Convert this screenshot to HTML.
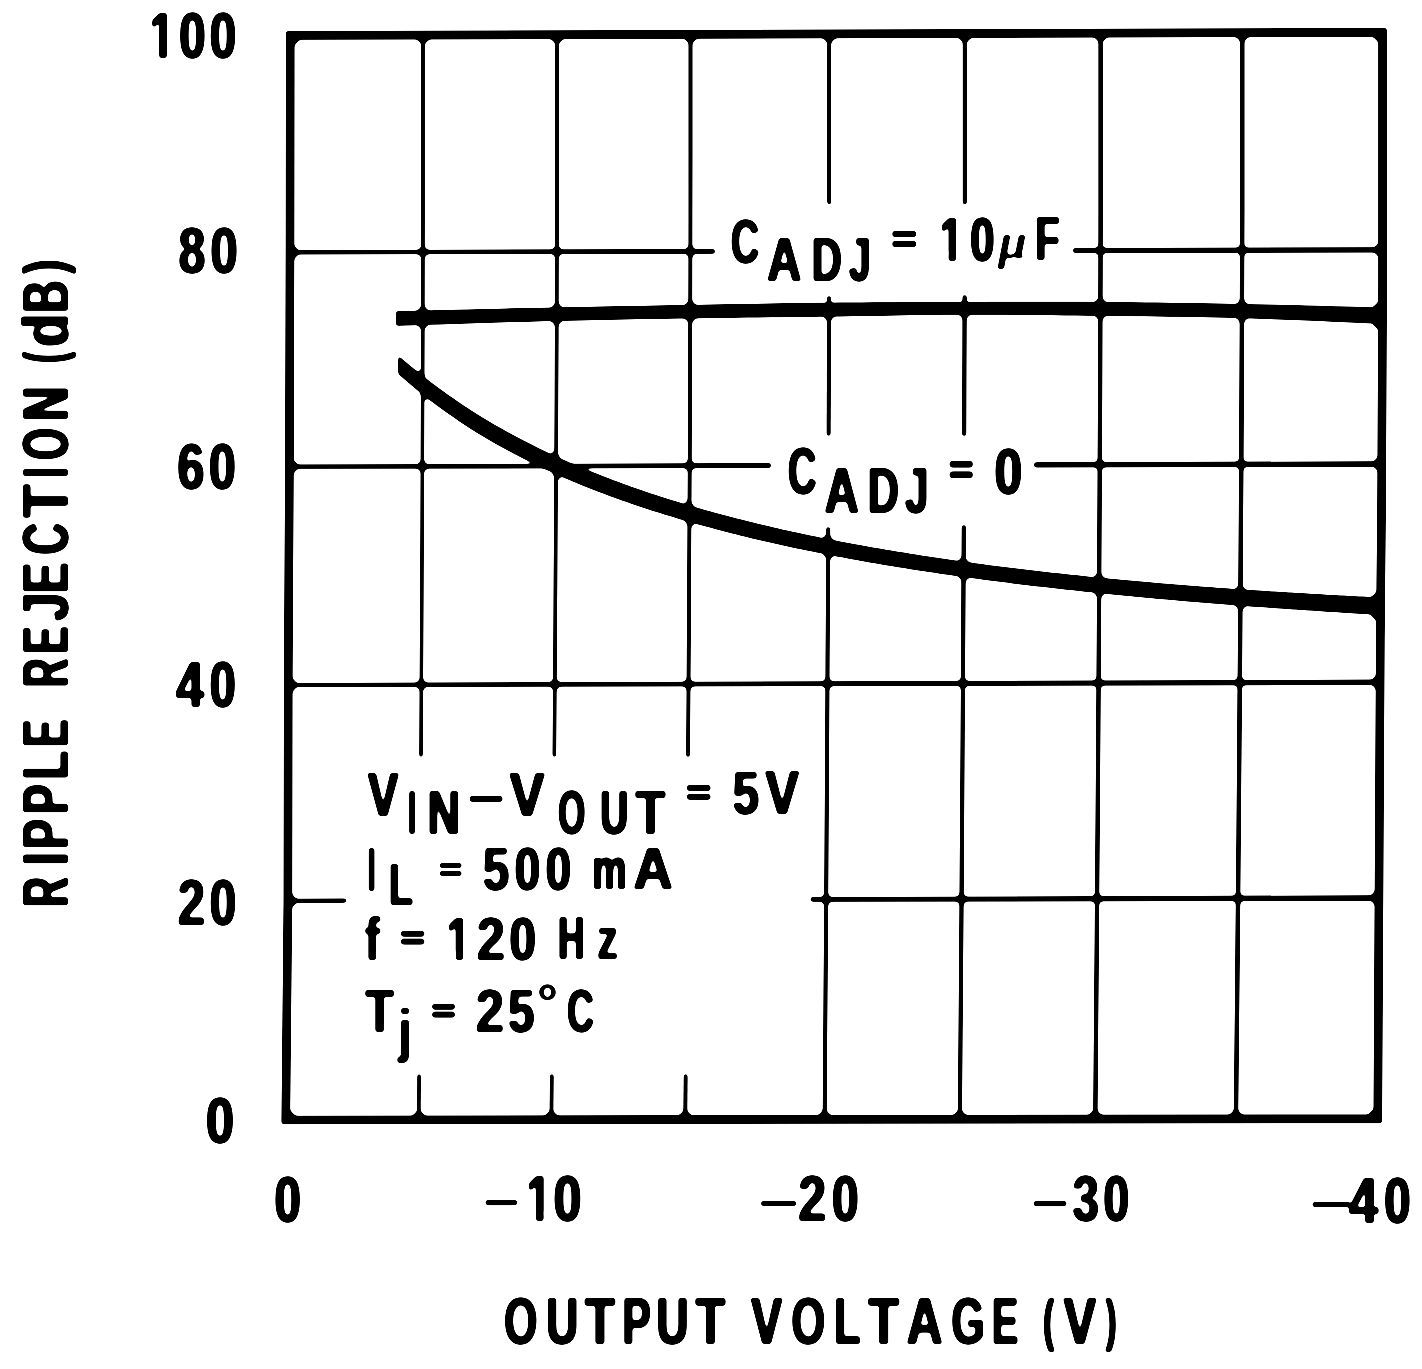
<!DOCTYPE html>
<html lang="en"><head><meta charset="utf-8"><title>Ripple Rejection vs Output Voltage</title>
<style>
html,body{margin:0;padding:0;background:#fff}
svg{display:block}
</style></head><body>
<svg width="1422" height="1369" viewBox="0 0 1422 1369" role="img" aria-labelledby="ttl dsc">
<title id="ttl">RIPPLE REJECTION (dB) vs OUTPUT VOLTAGE (V)</title>
<desc id="dsc">Ripple rejection versus output voltage for CADJ = 10μF and CADJ = 0. Conditions: VIN−VOUT = 5V, IL = 500 mA, f = 120 Hz, Tj = 25°C.</desc>
<defs>
<filter id="fatx" x="0" y="0" width="1422" height="1369" filterUnits="userSpaceOnUse"><feOffset in="SourceGraphic" dx="-1" dy="0" result="a"/><feOffset in="SourceGraphic" dx="1" dy="0" result="b"/><feMerge><feMergeNode in="a"/><feMergeNode in="b"/><feMergeNode in="SourceGraphic"/></feMerge></filter>
<filter id="faty" x="0" y="0" width="1422" height="1369" filterUnits="userSpaceOnUse"><feOffset in="SourceGraphic" dx="0" dy="-1" result="a"/><feOffset in="SourceGraphic" dx="0" dy="1" result="b"/><feMerge><feMergeNode in="a"/><feMergeNode in="b"/><feMergeNode in="SourceGraphic"/></feMerge></filter>
<filter id="ink" x="-30" y="-30" width="1482" height="1429" filterUnits="userSpaceOnUse" color-interpolation-filters="sRGB"><feGaussianBlur stdDeviation="1.5"/><feComponentTransfer><feFuncR type="linear" slope="7.0" intercept="-3.0"/><feFuncG type="linear" slope="7.0" intercept="-3.0"/><feFuncB type="linear" slope="7.0" intercept="-3.0"/></feComponentTransfer></filter>
</defs>
<g id="art" filter="url(#ink)">
<rect id="bg" x="-60" y="-60" width="1542" height="1489" fill="#fff"/>
<g fill="#000" stroke="none">
<polygon points="421.2,35.0 421.2,95.2 421.2,155.4 421.2,215.5 421.1,275.7 421.0,335.9 420.8,396.0 420.6,456.2 420.4,516.3 420.1,576.5 419.8,636.7 419.5,696.8 419.2,757.0 422.8,757.0 423.1,696.8 423.4,636.7 423.7,576.5 424.0,516.3 424.2,456.2 424.4,396.0 424.6,335.9 424.7,275.7 424.8,215.5 424.8,155.4 424.8,95.2 424.8,35.0"/>
<polygon points="417.3,1074.0 417.0,1119.9 420.6,1119.9 420.9,1074.0"/>
<polygon points="555.1,34.7 555.1,94.9 555.1,155.1 555.1,215.3 555.0,275.4 554.8,335.6 554.6,395.8 554.3,456.0 554.0,516.2 553.6,576.4 553.3,636.6 552.9,696.8 552.5,757.0 556.2,757.0 556.6,696.8 557.0,636.6 557.4,576.4 557.7,516.2 558.1,456.0 558.3,395.8 558.6,335.6 558.7,275.4 558.9,215.3 558.9,155.1 558.9,94.9 558.9,34.7"/>
<polygon points="549.9,1074.0 549.5,1119.7 553.3,1119.7 553.7,1074.0"/>
<polygon points="688.5,34.3 688.5,94.5 688.5,154.8 688.5,215.0 688.4,275.2 688.2,335.4 688.0,395.7 687.8,455.9 687.5,516.1 687.2,576.3 686.8,636.6 686.5,696.8 686.1,757.0 690.0,757.0 690.4,696.8 690.8,636.6 691.1,576.3 691.4,516.1 691.7,455.9 691.9,395.7 692.2,335.4 692.3,275.2 692.4,215.0 692.5,154.8 692.5,94.5 692.5,34.3"/>
<polygon points="683.7,1074.0 683.3,1119.6 687.3,1119.6 687.6,1074.0"/>
<polygon points="827.2,33.9 827.2,119.2 827.2,204.5 831.2,204.5 831.2,119.2 831.2,33.9"/>
<polygon points="827.0,296.0 826.8,366.0 826.6,436.0 830.6,436.0 830.9,366.0 831.1,296.0"/>
<polygon points="826.2,527.0 825.9,592.8 825.5,658.6 825.2,724.5 824.8,790.3 824.4,856.1 824.0,921.9 823.5,987.8 823.1,1053.6 822.6,1119.4 826.7,1119.4 827.1,1053.6 827.6,987.8 828.1,921.9 828.5,856.1 828.9,790.3 829.3,724.5 829.6,658.6 830.0,592.8 830.3,527.0"/>
<polygon points="962.7,33.5 962.7,119.0 962.7,204.5 966.9,204.5 966.9,119.0 966.9,33.5"/>
<polygon points="962.5,295.0 962.3,365.5 962.0,436.0 966.3,436.0 966.5,365.5 966.8,295.0"/>
<polygon points="961.7,525.0 961.3,591.0 961.0,657.1 960.6,723.1 960.2,789.1 959.7,855.1 959.3,921.2 958.8,987.2 958.3,1053.2 957.8,1119.3 962.0,1119.3 962.5,1053.2 963.0,987.2 963.5,921.2 964.0,855.1 964.4,789.1 964.8,723.1 965.2,657.1 965.6,591.0 965.9,525.0"/>
<polygon points="1098.4,33.2 1098.4,93.5 1098.4,153.8 1098.4,214.2 1098.3,274.5 1098.1,334.8 1097.9,395.2 1097.6,455.5 1097.3,515.8 1097.0,576.1 1096.7,636.5 1096.3,696.8 1095.9,757.1 1095.5,817.5 1095.0,877.8 1094.6,938.1 1094.1,998.5 1093.6,1058.8 1093.1,1119.1 1097.5,1119.1 1098.0,1058.8 1098.5,998.5 1099.0,938.1 1099.4,877.8 1099.9,817.5 1100.3,757.1 1100.7,696.8 1101.1,636.5 1101.4,576.1 1101.7,515.8 1102.0,455.5 1102.3,395.2 1102.5,334.8 1102.7,274.5 1102.8,214.2 1102.8,153.8 1102.8,93.5 1102.8,33.2"/>
<polygon points="1239.9,32.8 1239.9,93.1 1239.9,153.5 1239.9,213.8 1239.8,274.2 1239.6,334.5 1239.3,394.8 1239.0,455.2 1238.7,515.5 1238.3,575.9 1237.9,636.2 1237.4,696.6 1237.0,756.9 1236.5,817.2 1236.0,877.6 1235.4,937.9 1234.9,998.3 1234.3,1058.6 1233.7,1119.0 1238.2,1119.0 1238.8,1058.6 1239.4,998.3 1240.0,937.9 1240.5,877.6 1241.0,817.2 1241.5,756.9 1242.0,696.6 1242.4,636.2 1242.8,575.9 1243.2,515.5 1243.6,455.2 1243.9,394.8 1244.1,334.5 1244.3,274.2 1244.5,213.8 1244.5,153.5 1244.5,93.1 1244.5,32.8"/>
<polygon points="290.0,250.2 715.0,249.0 715.0,253.7 290.0,254.4"/>
<polygon points="1073.0,248.0 1382.6,247.2 1382.6,252.6 1073.0,253.1"/>
<polygon points="289.4,464.6 771.0,463.1 771.0,467.9 289.4,468.8"/>
<polygon points="1034.0,462.3 1381.8,461.3 1381.8,466.7 1034.0,467.4"/>
<polygon points="288.2,682.9 1380.1,679.6 1380.1,685.0 288.2,687.1"/>
<polygon points="287.9,898.7 346.5,898.5 346.5,902.8 287.9,902.9"/>
<polygon points="810.5,897.1 1379.0,895.3 1379.0,900.7 810.5,901.8"/>
<polygon points="396.0,311.3 395.6,311.3 394.4,311.3 392.7,311.3 390.7,311.4 388.8,311.4 387.1,311.4 386.0,311.4 385.7,311.4 386.5,311.4 388.6,311.3 392.4,311.2 398.0,311.1 405.8,310.9 415.6,310.7 427.1,310.4 440.0,310.1 454.0,309.7 468.8,309.4 484.0,309.0 499.3,308.7 514.5,308.3 529.2,308.0 543.2,307.7 556.0,307.4 568.0,307.1 579.7,306.9 591.1,306.7 602.3,306.5 613.3,306.3 624.2,306.1 635.1,305.9 645.9,305.7 656.8,305.5 667.7,305.3 678.8,305.1 690.0,304.9 701.4,304.7 712.8,304.5 724.3,304.3 735.8,304.1 747.3,303.9 758.9,303.7 770.4,303.5 782.0,303.3 793.5,303.1 805.1,303.0 816.6,302.8 828.0,302.7 839.4,302.6 850.8,302.5 862.2,302.4 873.5,302.3 884.9,302.2 896.2,302.2 907.5,302.1 918.8,302.1 930.1,302.0 941.4,302.0 952.7,301.9 964.0,301.9 975.3,301.9 986.5,301.8 997.7,301.8 1008.9,301.8 1020.0,301.7 1031.2,301.7 1042.4,301.7 1053.6,301.7 1064.9,301.7 1076.2,301.8 1087.5,301.8 1099.0,301.9 1110.5,302.0 1122.2,302.1 1133.8,302.2 1145.6,302.4 1157.3,302.5 1169.1,302.7 1180.9,302.9 1192.8,303.0 1204.6,303.2 1216.4,303.5 1228.2,303.7 1240.0,303.9 1252.2,304.2 1265.1,304.4 1278.6,304.8 1292.2,305.1 1305.9,305.5 1319.3,305.8 1332.2,306.2 1344.4,306.5 1355.7,306.8 1365.7,307.1 1374.2,307.3 1381.0,307.5 1381.0,323.9 1374.2,323.6 1365.7,323.2 1355.7,322.8 1344.4,322.3 1332.2,321.7 1319.3,321.1 1305.9,320.6 1292.2,320.0 1278.6,319.4 1265.1,318.9 1252.2,318.5 1240.0,318.1 1228.2,317.8 1216.4,317.5 1204.6,317.3 1192.8,317.0 1180.9,316.8 1169.1,316.7 1157.3,316.5 1145.6,316.3 1133.8,316.2 1122.2,316.1 1110.5,315.9 1099.0,315.8 1087.5,315.7 1076.2,315.5 1064.9,315.4 1053.6,315.2 1042.4,315.1 1031.2,315.0 1020.0,314.9 1008.9,314.8 997.7,314.7 986.5,314.7 975.3,314.7 964.0,314.7 952.7,314.8 941.4,314.8 930.1,315.0 918.8,315.1 907.5,315.3 896.2,315.5 884.9,315.7 873.5,315.9 862.2,316.1 850.8,316.3 839.4,316.4 828.0,316.6 816.6,316.8 805.1,316.9 793.5,317.0 782.0,317.2 770.4,317.3 758.9,317.5 747.3,317.6 735.8,317.7 724.3,317.9 712.8,318.1 701.4,318.2 690.0,318.4 678.8,318.6 667.7,318.8 656.8,318.9 645.9,319.1 635.1,319.3 624.2,319.5 613.3,319.7 602.3,319.9 591.1,320.2 579.7,320.4 568.0,320.7 556.0,321.0 543.2,321.3 529.2,321.7 514.5,322.1 499.3,322.6 484.0,323.1 468.8,323.5 454.0,324.0 440.0,324.4 427.1,324.8 415.6,325.2 405.8,325.5 398.0,325.7 392.4,325.9 388.6,326.0 386.5,326.0 385.7,326.0 386.0,326.0 387.1,325.9 388.8,325.9 390.7,325.8 392.7,325.7 394.4,325.7 395.6,325.6 396.0,325.6"/>
<polygon points="398.2,355.6 398.8,356.1 399.5,356.7 400.3,357.4 401.2,358.1 402.2,359.0 403.3,359.9 404.4,360.8 405.5,361.8 406.7,362.7 407.8,363.7 408.9,364.6 410.0,365.5 411.0,366.4 412.1,367.2 413.1,368.0 414.1,368.9 415.1,369.8 416.2,370.6 417.2,371.5 418.3,372.4 419.4,373.3 420.6,374.2 421.8,375.1 423.0,376.1 424.3,377.1 425.5,378.1 426.8,379.1 428.1,380.1 429.4,381.1 430.8,382.2 432.2,383.2 433.7,384.3 435.2,385.5 436.7,386.6 438.3,387.8 440.0,389.0 441.8,390.3 443.6,391.6 445.6,393.0 447.6,394.4 449.7,395.9 451.8,397.3 453.9,398.8 456.0,400.2 458.0,401.7 460.1,403.1 462.1,404.4 464.0,405.7 465.9,406.9 467.7,408.1 469.4,409.3 471.2,410.4 472.9,411.5 474.6,412.6 476.3,413.7 478.0,414.7 479.8,415.8 481.5,416.9 483.2,417.9 485.0,419.0 486.8,420.1 488.6,421.2 490.4,422.2 492.2,423.3 494.0,424.4 495.9,425.4 497.7,426.5 499.6,427.5 501.4,428.6 503.3,429.6 505.1,430.7 507.0,431.7 508.9,432.7 510.8,433.8 512.6,434.8 514.5,435.8 516.4,436.8 518.3,437.8 520.2,438.8 522.1,439.8 524.1,440.8 526.0,441.8 528.0,442.8 530.0,443.8 532.0,444.8 534.1,445.8 536.1,446.9 538.2,447.9 540.3,448.9 542.4,449.9 544.5,450.9 546.6,451.9 548.7,453.0 550.8,453.9 552.9,454.9 555.0,455.9 557.1,456.9 559.1,457.8 561.2,458.7 563.3,459.7 565.3,460.6 567.4,461.5 569.4,462.4 571.5,463.3 573.6,464.2 575.7,465.1 577.8,466.0 580.0,466.9 582.2,467.8 584.4,468.7 586.6,469.6 588.8,470.5 591.1,471.4 593.3,472.3 595.6,473.2 597.9,474.1 600.1,475.0 602.4,475.9 604.7,476.8 607.0,477.7 609.3,478.6 611.6,479.5 614.0,480.4 616.4,481.2 618.7,482.1 621.1,483.0 623.5,483.9 625.9,484.7 628.2,485.6 630.5,486.4 632.8,487.2 635.0,488.0 637.1,488.8 639.2,489.5 641.1,490.1 643.0,490.8 644.9,491.4 646.8,492.1 648.7,492.7 650.7,493.4 652.8,494.1 655.0,494.8 657.4,495.6 660.0,496.4 662.8,497.3 665.8,498.2 668.9,499.2 672.2,500.2 675.6,501.2 679.1,502.3 682.6,503.4 686.1,504.4 689.6,505.5 693.2,506.5 696.6,507.5 700.0,508.5 703.3,509.4 706.7,510.4 710.0,511.3 713.3,512.2 716.7,513.2 720.0,514.1 723.3,515.0 726.7,515.8 730.0,516.7 733.3,517.6 736.7,518.4 740.0,519.3 743.3,520.1 746.7,521.0 750.0,521.8 753.3,522.6 756.7,523.4 760.0,524.2 763.3,525.0 766.7,525.8 770.0,526.6 773.3,527.4 776.7,528.1 780.0,528.9 783.3,529.7 786.7,530.4 790.0,531.1 793.3,531.9 796.7,532.6 800.0,533.3 803.3,534.0 806.7,534.7 810.0,535.4 813.3,536.1 816.7,536.8 820.0,537.5 823.3,538.2 826.7,538.8 830.0,539.5 833.3,540.1 836.7,540.8 840.0,541.4 843.3,542.0 846.7,542.7 850.0,543.3 853.3,543.9 856.7,544.5 860.0,545.1 863.3,545.7 866.6,546.3 869.8,546.9 873.0,547.4 876.2,548.0 879.4,548.5 882.6,549.1 885.9,549.7 889.3,550.2 892.8,550.8 896.3,551.4 900.0,552.0 903.8,552.6 907.8,553.2 911.8,553.9 915.9,554.5 920.1,555.2 924.4,555.9 928.7,556.5 933.0,557.2 937.3,557.8 941.6,558.5 945.8,559.1 950.0,559.7 954.2,560.3 958.3,560.9 962.5,561.5 966.7,562.1 970.8,562.6 975.0,563.2 979.2,563.8 983.3,564.3 987.5,564.9 991.7,565.4 995.8,566.0 1000.0,566.5 1004.2,567.0 1008.3,567.5 1012.5,568.1 1016.7,568.6 1020.8,569.1 1025.0,569.5 1029.2,570.0 1033.3,570.5 1037.5,571.0 1041.7,571.5 1045.8,571.9 1050.0,572.4 1054.2,572.9 1058.3,573.3 1062.5,573.8 1066.7,574.2 1070.8,574.7 1075.0,575.1 1079.2,575.6 1083.3,576.0 1087.5,576.4 1091.7,576.9 1095.8,577.3 1100.0,577.7 1104.2,578.1 1108.3,578.5 1112.5,578.9 1116.7,579.3 1120.8,579.7 1125.0,580.1 1129.2,580.5 1133.3,580.8 1137.5,581.2 1141.7,581.6 1145.8,581.9 1150.0,582.3 1154.2,582.7 1158.3,583.0 1162.5,583.4 1166.7,583.7 1170.8,584.1 1175.0,584.4 1179.2,584.8 1183.3,585.1 1187.5,585.4 1191.7,585.8 1195.8,586.1 1200.0,586.4 1204.2,586.7 1208.3,587.0 1212.5,587.3 1216.7,587.7 1220.8,588.0 1225.0,588.3 1229.2,588.6 1233.3,588.9 1237.5,589.1 1241.7,589.4 1245.8,589.7 1250.0,590.0 1254.2,590.3 1258.4,590.6 1262.7,590.8 1267.0,591.1 1271.3,591.4 1275.6,591.6 1279.9,591.9 1284.1,592.1 1288.2,592.4 1292.2,592.6 1296.2,592.9 1300.0,593.1 1303.7,593.3 1307.2,593.5 1310.7,593.7 1314.0,593.9 1317.3,594.1 1320.6,594.3 1323.8,594.5 1327.0,594.7 1330.2,594.9 1333.4,595.0 1336.7,595.2 1340.0,595.4 1343.5,595.6 1347.2,595.8 1351.1,596.0 1355.1,596.2 1359.1,596.4 1363.0,596.5 1366.8,596.7 1370.3,596.9 1373.6,597.0 1376.5,597.2 1379.0,597.3 1381.0,597.4 1381.0,615.0 1379.0,614.9 1376.5,614.7 1373.6,614.6 1370.3,614.4 1366.8,614.1 1363.0,613.9 1359.1,613.7 1355.1,613.4 1351.1,613.2 1347.2,613.0 1343.5,612.7 1340.0,612.5 1336.7,612.3 1333.4,612.1 1330.2,611.9 1327.0,611.7 1323.8,611.5 1320.6,611.3 1317.3,611.1 1314.0,610.8 1310.7,610.6 1307.2,610.4 1303.7,610.1 1300.0,609.9 1296.2,609.6 1292.2,609.4 1288.2,609.1 1284.1,608.8 1279.9,608.5 1275.6,608.2 1271.3,607.9 1267.0,607.6 1262.7,607.3 1258.4,607.0 1254.2,606.7 1250.0,606.4 1245.8,606.1 1241.7,605.8 1237.5,605.4 1233.3,605.1 1229.2,604.8 1225.0,604.4 1220.8,604.1 1216.7,603.8 1212.5,603.4 1208.3,603.1 1204.2,602.7 1200.0,602.4 1195.8,602.1 1191.7,601.7 1187.5,601.4 1183.3,601.0 1179.2,600.7 1175.0,600.3 1170.8,599.9 1166.7,599.6 1162.5,599.2 1158.3,598.9 1154.2,598.5 1150.0,598.1 1145.8,597.7 1141.7,597.3 1137.5,596.9 1133.3,596.5 1129.2,596.1 1125.0,595.7 1120.8,595.3 1116.7,594.9 1112.5,594.5 1108.3,594.1 1104.2,593.6 1100.0,593.2 1095.8,592.8 1091.7,592.3 1087.5,591.9 1083.3,591.5 1079.2,591.0 1075.0,590.6 1070.8,590.1 1066.7,589.7 1062.5,589.2 1058.3,588.7 1054.2,588.3 1050.0,587.8 1045.8,587.3 1041.7,586.8 1037.5,586.4 1033.3,585.9 1029.2,585.4 1025.0,584.9 1020.8,584.4 1016.7,583.9 1012.5,583.4 1008.3,582.8 1004.2,582.3 1000.0,581.8 995.8,581.3 991.7,580.7 987.5,580.2 983.3,579.7 979.2,579.1 975.0,578.5 970.8,578.0 966.7,577.4 962.5,576.9 958.3,576.3 954.2,575.7 950.0,575.1 945.8,574.5 941.6,573.9 937.3,573.2 933.0,572.6 928.7,572.0 924.4,571.3 920.1,570.7 915.9,570.0 911.8,569.4 907.8,568.7 903.8,568.1 900.0,567.5 896.3,566.9 892.8,566.3 889.3,565.8 885.9,565.2 882.6,564.7 879.4,564.1 876.2,563.5 873.0,563.0 869.8,562.4 866.6,561.9 863.3,561.3 860.0,560.7 856.7,560.1 853.3,559.5 850.0,558.9 846.7,558.3 843.3,557.6 840.0,557.0 836.7,556.4 833.3,555.7 830.0,555.1 826.7,554.4 823.3,553.8 820.0,553.1 816.7,552.4 813.3,551.8 810.0,551.1 806.7,550.4 803.3,549.7 800.0,549.1 796.7,548.4 793.3,547.7 790.0,547.0 786.7,546.3 783.3,545.5 780.0,544.8 776.7,544.1 773.3,543.3 770.0,542.6 766.7,541.8 763.3,541.0 760.0,540.2 756.7,539.5 753.3,538.7 750.0,537.9 746.7,537.0 743.3,536.2 740.0,535.4 736.7,534.6 733.3,533.7 730.0,532.9 726.7,532.0 723.3,531.2 720.0,530.3 716.7,529.4 713.3,528.5 710.0,527.6 706.7,526.7 703.3,525.8 700.0,524.9 696.6,524.0 693.2,523.0 689.6,522.0 686.1,520.9 682.6,519.9 679.1,518.9 675.6,517.8 672.2,516.8 668.9,515.8 665.8,514.9 662.8,514.0 660.0,513.1 657.4,512.3 655.0,511.6 652.8,510.9 650.7,510.2 648.7,509.6 646.8,508.9 644.9,508.3 643.0,507.7 641.1,507.1 639.2,506.4 637.1,505.7 635.0,505.0 632.8,504.2 630.5,503.4 628.2,502.6 625.9,501.8 623.5,501.0 621.1,500.2 618.7,499.3 616.4,498.4 614.0,497.6 611.6,496.7 609.3,495.9 607.0,495.0 604.7,494.1 602.4,493.3 600.1,492.4 597.9,491.5 595.6,490.7 593.3,489.8 591.1,488.9 588.8,488.0 586.6,487.2 584.4,486.3 582.2,485.4 580.0,484.5 577.8,483.6 575.7,482.7 573.6,481.8 571.5,481.0 569.4,480.1 567.4,479.2 565.3,478.3 563.3,477.4 561.2,476.5 559.1,475.6 557.1,474.6 555.0,473.7 552.9,472.8 550.8,471.8 548.7,470.8 546.6,469.9 544.5,468.9 542.4,467.9 540.3,466.9 538.2,465.9 536.1,465.0 534.1,464.0 532.0,463.0 530.0,462.0 528.0,461.0 526.0,460.0 524.1,459.1 522.1,458.1 520.2,457.1 518.3,456.1 516.4,455.1 514.5,454.1 512.6,453.1 510.8,452.1 508.9,451.1 507.0,450.1 505.1,449.1 503.3,448.1 501.4,447.0 499.6,446.0 497.7,445.0 495.9,443.9 494.0,442.9 492.2,441.8 490.4,440.8 488.6,439.7 486.8,438.7 485.0,437.6 483.2,436.5 481.5,435.5 479.8,434.5 478.0,433.4 476.3,432.4 474.6,431.3 472.9,430.2 471.2,429.2 469.4,428.0 467.7,426.9 465.9,425.7 464.0,424.5 462.1,423.2 460.1,421.9 458.0,420.5 456.0,419.1 453.9,417.6 451.8,416.1 449.7,414.7 447.6,413.2 445.6,411.8 443.6,410.4 441.8,409.1 440.0,407.8 438.3,406.6 436.7,405.4 435.2,404.2 433.7,403.1 432.2,402.0 430.8,400.9 429.4,399.9 428.1,398.8 426.8,397.8 425.5,396.8 424.3,395.8 423.0,394.8 421.8,393.8 420.6,392.9 419.4,392.0 418.3,391.0 417.2,390.2 416.2,389.3 415.1,388.4 414.1,387.5 413.1,386.7 412.1,385.8 411.0,385.0 410.0,384.1 408.9,383.2 407.8,382.3 406.7,381.3 405.5,380.3 404.4,379.3 403.3,378.3 402.2,377.4 401.2,376.5 400.3,375.7 399.5,375.0 398.8,374.4 398.2,373.9"/>
<path d="M415.9 252.0L422.9 245.4L429.9 252.0L422.9 258.6Z"/>
<path d="M415.4 466.4L422.4 459.8L429.4 466.4L422.4 473.0Z"/>
<path d="M414.4 684.7L421.4 678.1L428.4 684.7L421.4 691.3Z"/>
<path d="M416.9 39.4L423.1 33.4L429.3 39.4L423.1 45.4Z"/>
<path d="M412.6 1115.5L418.8 1109.5L425.0 1115.5L418.8 1121.5Z"/>
<path d="M417.1 311.0L422.9 304.8L428.7 311.0L422.9 317.2Z"/>
<path d="M416.9 324.4L422.7 318.2L428.5 324.4L422.7 330.6Z"/>
<path d="M413.7 376.3L419.5 370.1L425.3 376.3L419.5 382.5Z"/>
<path d="M420.0 394.0L425.8 387.8L431.6 394.0L425.8 400.2Z"/>
<path d="M549.9 251.7L556.9 245.1L563.9 251.7L556.9 258.3Z"/>
<path d="M549.1 466.0L556.1 459.4L563.1 466.0L556.1 472.6Z"/>
<path d="M547.9 684.3L554.9 677.7L561.9 684.3L554.9 690.9Z"/>
<path d="M550.9 39.0L557.1 33.0L563.3 39.0L557.1 45.0Z"/>
<path d="M545.1 1115.4L551.3 1109.4L557.5 1115.4L551.3 1121.4Z"/>
<path d="M551.1 307.9L556.9 301.7L562.7 307.9L556.9 314.1Z"/>
<path d="M550.8 320.5L556.6 314.3L562.4 320.5L556.6 326.7Z"/>
<path d="M548.5 456.9L554.3 450.7L560.1 456.9L554.3 463.1Z"/>
<path d="M552.1 473.7L557.9 467.5L563.7 473.7L557.9 479.9Z"/>
<path d="M683.4 251.4L690.4 244.8L697.4 251.4L690.4 258.0Z"/>
<path d="M682.7 465.7L689.7 459.1L696.7 465.7L689.7 472.3Z"/>
<path d="M681.5 684.0L688.5 677.4L695.5 684.0L688.5 690.6Z"/>
<path d="M684.4 38.7L690.6 32.7L696.8 38.7L690.6 44.7Z"/>
<path d="M679.0 1115.2L685.2 1109.2L691.4 1115.2L685.2 1121.2Z"/>
<path d="M684.6 305.4L690.4 299.2L696.2 305.4L690.4 311.6Z"/>
<path d="M684.4 317.9L690.2 311.7L696.0 317.9L690.2 324.1Z"/>
<path d="M682.5 505.9L688.3 499.7L694.1 505.9L688.3 512.1Z"/>
<path d="M684.8 521.4L690.6 515.2L696.4 521.4L690.6 527.6Z"/>
<path d="M820.5 683.7L827.5 677.1L834.5 683.7L827.5 690.3Z"/>
<path d="M819.2 899.4L826.2 892.8L833.2 899.4L826.2 906.0Z"/>
<path d="M823.1 38.3L829.3 32.3L835.5 38.3L829.3 44.3Z"/>
<path d="M818.3 1115.1L824.5 1109.1L830.7 1115.1L824.5 1121.1Z"/>
<path d="M823.1 316.1L828.9 309.9L834.7 316.1L828.9 322.3Z"/>
<path d="M821.6 539.6L827.4 533.4L833.2 539.6L827.4 545.8Z"/>
<path d="M823.1 554.2L828.9 548.0L834.7 554.2L828.9 560.4Z"/>
<path d="M955.9 683.3L962.9 676.7L969.9 683.3L962.9 689.9Z"/>
<path d="M954.6 899.1L961.6 892.5L968.6 899.1L961.6 905.7Z"/>
<path d="M958.7 37.9L964.9 31.9L971.1 37.9L964.9 43.9Z"/>
<path d="M953.6 1114.9L959.8 1108.9L966.0 1114.9L959.8 1120.9Z"/>
<path d="M958.8 314.2L964.6 308.0L970.4 314.2L964.6 320.4Z"/>
<path d="M957.2 562.1L963.0 555.9L968.8 562.1L963.0 568.3Z"/>
<path d="M958.3 576.5L964.1 570.3L969.9 576.5L964.1 582.7Z"/>
<path d="M1093.5 250.5L1100.5 243.9L1107.5 250.5L1100.5 257.1Z"/>
<path d="M1092.8 464.7L1099.8 458.1L1106.8 464.7L1099.8 471.3Z"/>
<path d="M1091.6 683.0L1098.6 676.4L1105.6 683.0L1098.6 689.6Z"/>
<path d="M1090.1 898.7L1097.1 892.1L1104.1 898.7L1097.1 905.3Z"/>
<path d="M1094.5 37.5L1100.7 31.5L1106.9 37.5L1100.7 43.5Z"/>
<path d="M1089.0 1114.8L1095.2 1108.8L1101.4 1114.8L1095.2 1120.8Z"/>
<path d="M1094.6 302.4L1100.4 296.2L1106.2 302.4L1100.4 308.6Z"/>
<path d="M1094.6 315.3L1100.4 309.1L1106.2 315.3L1100.4 321.5Z"/>
<path d="M1093.0 578.1L1098.8 571.9L1104.6 578.1L1098.8 584.3Z"/>
<path d="M1093.7 592.6L1099.5 586.4L1105.3 592.6L1099.5 598.8Z"/>
<path d="M1235.1 250.2L1242.1 243.6L1249.1 250.2L1242.1 256.8Z"/>
<path d="M1234.2 464.3L1241.2 457.7L1248.2 464.3L1241.2 470.9Z"/>
<path d="M1232.8 682.6L1239.8 676.0L1246.8 682.6L1239.8 689.2Z"/>
<path d="M1231.1 898.4L1238.1 891.8L1245.1 898.4L1238.1 905.0Z"/>
<path d="M1236.1 37.1L1242.3 31.1L1248.5 37.1L1242.3 43.1Z"/>
<path d="M1229.7 1114.6L1235.9 1108.6L1242.1 1114.6L1235.9 1120.6Z"/>
<path d="M1236.1 304.4L1241.9 298.2L1247.7 304.4L1241.9 310.6Z"/>
<path d="M1236.2 317.7L1242.0 311.5L1247.8 317.7L1242.0 323.9Z"/>
<path d="M1234.4 589.9L1240.2 583.7L1246.0 589.9L1240.2 596.1Z"/>
<path d="M1234.9 605.2L1240.7 599.0L1246.5 605.2L1240.7 611.4Z"/>
<path d="M288.3 252.3L294.3 245.9L300.3 252.3L294.3 258.7Z"/>
<path d="M1372.2 249.9L1378.2 243.5L1384.2 249.9L1378.2 256.3Z"/>
<path d="M287.7 466.7L293.7 460.3L299.7 466.7L293.7 473.1Z"/>
<path d="M1371.4 464.0L1377.4 457.6L1383.4 464.0L1377.4 470.4Z"/>
<path d="M286.6 685.0L292.6 678.6L298.6 685.0L292.6 691.4Z"/>
<path d="M1369.7 682.3L1375.7 675.9L1381.7 682.3L1375.7 688.7Z"/>
<path d="M286.2 900.8L292.2 894.4L298.2 900.8L292.2 907.2Z"/>
<path d="M1368.6 898.0L1374.6 891.6L1380.6 898.0L1374.6 904.4Z"/>
<path d="M1372.6 307.5L1378.1 302.0L1383.6 307.5L1378.1 313.0Z"/>
<path d="M1372.6 323.9L1378.1 318.4L1383.6 323.9L1378.1 329.4Z"/>
<path d="M1370.8 597.4L1376.3 591.9L1381.8 597.4L1376.3 602.9Z"/>
<path d="M1370.7 615.0L1376.2 609.5L1381.7 615.0L1376.2 620.5Z"/>
<path d="M289.4 39.8L294.6 34.5L299.8 39.8L294.6 45.0Z"/>
<path d="M1373.0 36.8L1378.2 31.6L1383.5 36.8L1378.2 42.0Z"/>
<path d="M1368.2 1114.5L1373.5 1109.2L1378.7 1114.5L1373.5 1119.7Z"/>
<path d="M285.0 1115.7L290.2 1110.5L295.4 1115.7L290.2 1120.9Z"/>
</g>
<polygon points="290.2,35.4 1382.6,32.4 1382.6,285 1381.6,500 1380.3,640 1377.8,1118.8 285.8,1120.0 287.9,900 288.2,685 289.4,466 290.0,250" fill="none" stroke="#000" stroke-width="8.7" stroke-linejoin="miter"/>
<g font-family="'Liberation Sans', 'DejaVu Sans', sans-serif" font-weight="700" fill="#000" id="txt" filter="url(#fatx)" style="font-kerning:none">
<text id="y100" font-size="65" aria-label="100"><tspan id="g1" x="150.24" y="58.20" textLength="23.50" lengthAdjust="spacingAndGlyphs">1</tspan><tspan id="g2" x="179.13" y="58.20" textLength="26.31" lengthAdjust="spacingAndGlyphs">0</tspan><tspan id="g3" x="209.72" y="58.20" textLength="26.43" lengthAdjust="spacingAndGlyphs">0</tspan></text>
<text id="y80" font-size="65" aria-label="80"><tspan id="g4" x="178.79" y="273.40" textLength="26.48" lengthAdjust="spacingAndGlyphs">8</tspan><tspan id="g5" x="210.57" y="273.40" textLength="27.13" lengthAdjust="spacingAndGlyphs">0</tspan></text>
<text id="y60" font-size="65" aria-label="60"><tspan id="g6" x="177.43" y="488.50" textLength="26.81" lengthAdjust="spacingAndGlyphs">6</tspan><tspan id="g7" x="209.10" y="488.50" textLength="26.66" lengthAdjust="spacingAndGlyphs">0</tspan></text>
<text id="y40" font-size="65" aria-label="40"><tspan id="g8" x="176.25" y="707.00" textLength="27.51" lengthAdjust="spacingAndGlyphs">4</tspan><tspan id="g9" x="209.75" y="707.00" textLength="25.96" lengthAdjust="spacingAndGlyphs">0</tspan></text>
<text id="y20" font-size="65" aria-label="20"><tspan id="g10" x="178.02" y="925.30" textLength="26.92" lengthAdjust="spacingAndGlyphs">2</tspan><tspan id="g11" x="209.72" y="925.30" textLength="26.43" lengthAdjust="spacingAndGlyphs">0</tspan></text>
<text id="y0" font-size="65" aria-label="0"><tspan id="g12" x="206.11" y="1142.70" textLength="27.95" lengthAdjust="spacingAndGlyphs">0</tspan></text>
<text id="x0" font-size="65" aria-label="0"><tspan id="g13" x="274.43" y="1222.10" textLength="26.31" lengthAdjust="spacingAndGlyphs">0</tspan></text>
<text id="x10" font-size="65" aria-label="−10"><tspan id="g14" x="484.03" y="1218.40" textLength="34.70" lengthAdjust="spacingAndGlyphs" font-size="45.7">−</tspan><tspan id="g15" x="527.04" y="1220.70" textLength="23.50" lengthAdjust="spacingAndGlyphs">1</tspan><tspan id="g16" x="553.41" y="1220.70" textLength="27.95" lengthAdjust="spacingAndGlyphs">0</tspan></text>
<text id="x20" font-size="65" aria-label="−20"><tspan id="g17" x="759.35" y="1218.70" textLength="38.66" lengthAdjust="spacingAndGlyphs" font-size="45.7">−</tspan><tspan id="g18" x="798.38" y="1221.00" textLength="27.61" lengthAdjust="spacingAndGlyphs">2</tspan><tspan id="g19" x="832.01" y="1221.00" textLength="26.55" lengthAdjust="spacingAndGlyphs">0</tspan></text>
<text id="x30" font-size="65" aria-label="−30"><tspan id="g20" x="1031.94" y="1219.20" textLength="35.98" lengthAdjust="spacingAndGlyphs" font-size="45.7">−</tspan><tspan id="g21" x="1072.82" y="1221.40" textLength="26.07" lengthAdjust="spacingAndGlyphs">3</tspan><tspan id="g22" x="1103.58" y="1221.40" textLength="25.61" lengthAdjust="spacingAndGlyphs">0</tspan></text>
<text id="x40" font-size="65" aria-label="−40"><tspan id="g23" x="1310.56" y="1219.70" textLength="41.34" lengthAdjust="spacingAndGlyphs" font-size="45.7">−</tspan><tspan id="g24" x="1349.32" y="1223.40" textLength="28.66" lengthAdjust="spacingAndGlyphs">4</tspan><tspan id="g25" x="1384.23" y="1223.40" textLength="26.31" lengthAdjust="spacingAndGlyphs">0</tspan></text>
<text id="xt" font-size="66.5" aria-label="OUTPUT VOLTAGE (V)"><tspan id="g26" x="504.36" y="1344.00" textLength="33.02" lengthAdjust="spacingAndGlyphs">O</tspan><tspan id="g27" x="546.24" y="1344.00" textLength="31.96" lengthAdjust="spacingAndGlyphs">U</tspan><tspan id="g28" x="585.05" y="1344.00" textLength="29.87" lengthAdjust="spacingAndGlyphs">T</tspan><tspan id="g29" x="622.57" y="1344.00" textLength="28.17" lengthAdjust="spacingAndGlyphs">P</tspan><tspan id="g30" x="656.44" y="1344.00" textLength="31.96" lengthAdjust="spacingAndGlyphs">U</tspan><tspan id="g31" x="695.76" y="1344.00" textLength="29.36" lengthAdjust="spacingAndGlyphs">T</tspan> <tspan id="g32" x="751.08" y="1344.00" textLength="31.24" lengthAdjust="spacingAndGlyphs">V</tspan><tspan id="g33" x="791.53" y="1344.00" textLength="33.58" lengthAdjust="spacingAndGlyphs">O</tspan><tspan id="g34" x="834.25" y="1344.00" textLength="26.07" lengthAdjust="spacingAndGlyphs">L</tspan><tspan id="g35" x="868.54" y="1344.00" textLength="30.39" lengthAdjust="spacingAndGlyphs">T</tspan><tspan id="g36" x="906.55" y="1344.00" textLength="36.17" lengthAdjust="spacingAndGlyphs">A</tspan><tspan id="g37" x="951.56" y="1344.00" textLength="33.08" lengthAdjust="spacingAndGlyphs">G</tspan><tspan id="g38" x="991.99" y="1344.00" textLength="26.04" lengthAdjust="spacingAndGlyphs">E</tspan> <tspan id="g39" x="1043.26" y="1339.60" textLength="10.97" lengthAdjust="spacingAndGlyphs" font-size="57.5">(</tspan><tspan id="g40" x="1063.56" y="1344.00" textLength="32.77" lengthAdjust="spacingAndGlyphs">V</tspan><tspan id="g41" x="1105.87" y="1339.60" textLength="10.62" lengthAdjust="spacingAndGlyphs" font-size="57.5">)</tspan></text>
<text id="l1" font-size="63.5" aria-label="CADJ = 10μF"><tspan id="g42" x="731.11" y="263.20" textLength="28.06" lengthAdjust="spacingAndGlyphs">C</tspan><tspan id="g43" x="766.91" y="281.00" textLength="34.45" lengthAdjust="spacingAndGlyphs">A</tspan><tspan id="g44" x="811.72" y="281.00" textLength="30.03" lengthAdjust="spacingAndGlyphs">D</tspan><tspan id="g45" x="849.32" y="281.00" textLength="21.30" lengthAdjust="spacingAndGlyphs">J</tspan> <tspan id="g46" x="892.76" y="252.00" textLength="23.06" lengthAdjust="spacingAndGlyphs" font-size="37.8" stroke="#000" stroke-width="2.0">=</tspan> <tspan id="g47" x="939.92" y="260.60" textLength="22.77" lengthAdjust="spacingAndGlyphs" font-size="63">1</tspan><tspan id="g48" x="970.18" y="260.60" textLength="24.21" lengthAdjust="spacingAndGlyphs" font-size="63">0</tspan><tspan id="g49" x="998.55" y="257.50" textLength="27.78" lengthAdjust="spacingAndGlyphs" font-size="50.5" font-weight="400" font-style="italic" font-family="'Liberation Serif', 'DejaVu Serif', serif">μ</tspan><tspan id="g50" x="1035.15" y="260.40" textLength="24.20" lengthAdjust="spacingAndGlyphs" font-size="62.5">F</tspan></text>
<text id="l2" font-size="66" aria-label="CADJ = 0"><tspan id="g51" x="788.09" y="494.40" textLength="28.39" lengthAdjust="spacingAndGlyphs">C</tspan><tspan id="g52" x="824.51" y="512.80" textLength="34.45" lengthAdjust="spacingAndGlyphs" font-size="65">A</tspan><tspan id="g53" x="867.72" y="512.80" textLength="31.09" lengthAdjust="spacingAndGlyphs" font-size="65">D</tspan><tspan id="g54" x="905.37" y="512.80" textLength="23.06" lengthAdjust="spacingAndGlyphs" font-size="65">J</tspan> <tspan id="g55" x="950.11" y="483.10" textLength="22.36" lengthAdjust="spacingAndGlyphs" font-size="39.2" stroke="#000" stroke-width="2.0">=</tspan> <tspan id="g56" x="994.43" y="493.60" textLength="27.71" lengthAdjust="spacingAndGlyphs" font-size="65">0</tspan></text>
<text id="c1" font-size="63" aria-label="VIN−VOUT = 5V"><tspan id="g57" x="367.69" y="815.50" textLength="30.73" lengthAdjust="spacingAndGlyphs">V</tspan><tspan id="g58" x="408.48" y="833.80" textLength="7.14" lengthAdjust="spacingAndGlyphs" font-size="62.5">I</tspan><tspan id="g59" x="427.47" y="833.80" textLength="32.68" lengthAdjust="spacingAndGlyphs" font-size="62.5">N</tspan><tspan id="g60" x="468.25" y="816.20" textLength="35.87" lengthAdjust="spacingAndGlyphs" font-size="52.1">−</tspan><tspan id="g61" x="509.44" y="815.50" textLength="35.12" lengthAdjust="spacingAndGlyphs">V</tspan><tspan id="g62" x="558.28" y="833.80" textLength="26.87" lengthAdjust="spacingAndGlyphs" font-size="62.5">O</tspan><tspan id="g63" x="600.27" y="833.80" textLength="27.99" lengthAdjust="spacingAndGlyphs" font-size="62.5">U</tspan><tspan id="g64" x="635.86" y="833.80" textLength="29.36" lengthAdjust="spacingAndGlyphs" font-size="62.5">T</tspan> <tspan id="g65" x="687.60" y="804.10" textLength="22.48" lengthAdjust="spacingAndGlyphs" font-size="33.3" stroke="#000" stroke-width="2.0">=</tspan> <tspan id="g66" x="732.75" y="813.60" textLength="26.16" lengthAdjust="spacingAndGlyphs" font-size="61.5">5</tspan><tspan id="g67" x="765.25" y="814.00" textLength="33.79" lengthAdjust="spacingAndGlyphs">V</tspan></text>
<text id="c2" font-size="62.5" aria-label="IL = 500 mA"><tspan id="g68" x="367.98" y="890.60" textLength="7.14" lengthAdjust="spacingAndGlyphs">I</tspan><tspan id="g69" x="388.99" y="905.30" textLength="23.81" lengthAdjust="spacingAndGlyphs" font-size="59">L</tspan> <tspan id="g70" x="440.56" y="878.50" textLength="20.26" lengthAdjust="spacingAndGlyphs" font-size="27.8" stroke="#000" stroke-width="2.0">=</tspan> <tspan id="g71" x="483.06" y="889.60" textLength="26.04" lengthAdjust="spacingAndGlyphs" font-size="62">5</tspan><tspan id="g72" x="514.70" y="889.60" textLength="25.38" lengthAdjust="spacingAndGlyphs" font-size="62">0</tspan><tspan id="g73" x="545.80" y="889.60" textLength="25.26" lengthAdjust="spacingAndGlyphs" font-size="62">0</tspan> <tspan id="g74" x="592.25" y="889.20" textLength="34.34" lengthAdjust="spacingAndGlyphs" font-size="59">m</tspan><tspan id="g75" x="633.33" y="889.20" textLength="39.61" lengthAdjust="spacingAndGlyphs" font-size="60">A</tspan></text>
<text id="c3" font-size="62" aria-label="f = 120 Hz"><tspan id="g76" x="365.59" y="960.00" textLength="13.83" lengthAdjust="spacingAndGlyphs" font-size="61.5">f</tspan> <tspan id="g77" x="401.62" y="948.00" textLength="22.24" lengthAdjust="spacingAndGlyphs" font-size="30.4" stroke="#000" stroke-width="2.0">=</tspan> <tspan id="g78" x="447.26" y="960.00" textLength="22.41" lengthAdjust="spacingAndGlyphs">1</tspan><tspan id="g79" x="476.97" y="960.00" textLength="27.72" lengthAdjust="spacingAndGlyphs">2</tspan><tspan id="g80" x="509.62" y="960.00" textLength="26.43" lengthAdjust="spacingAndGlyphs">0</tspan> <tspan id="g81" x="557.94" y="959.30" textLength="26.53" lengthAdjust="spacingAndGlyphs">H</tspan><tspan id="g82" x="597.63" y="959.30" textLength="19.58" lengthAdjust="spacingAndGlyphs" font-size="60">z</tspan></text>
<text id="c4" font-size="62" aria-label="Tj = 25°C"><tspan id="g83" x="365.79" y="1031.60" textLength="27.70" lengthAdjust="spacingAndGlyphs">T</tspan><tspan id="g84" x="399.09" y="1050.80" textLength="12.20" lengthAdjust="spacingAndGlyphs" font-size="59">j</tspan> <tspan id="g85" x="432.67" y="1020.90" textLength="21.54" lengthAdjust="spacingAndGlyphs" font-size="30.4" stroke="#000" stroke-width="2.0">=</tspan> <tspan id="g86" x="475.97" y="1031.60" textLength="27.72" lengthAdjust="spacingAndGlyphs">2</tspan><tspan id="g87" x="508.36" y="1031.60" textLength="26.04" lengthAdjust="spacingAndGlyphs">5</tspan><tspan id="g88" x="537.86" y="1017.80" textLength="19.52" lengthAdjust="spacingAndGlyphs" font-size="50.1" font-weight="400" font-family="'Liberation Serif', 'DejaVu Serif', serif">°</tspan><tspan id="g89" x="567.29" y="1031.60" textLength="26.51" lengthAdjust="spacingAndGlyphs">C</tspan></text>
</g>
<rect x="149.40" y="49.57" width="9.80" height="11.13" fill="#fff"/>
<rect x="166.80" y="49.57" width="9.26" height="11.13" fill="#fff"/>
<rect x="526.20" y="1212.07" width="9.80" height="11.13" fill="#fff"/>
<rect x="543.60" y="1212.07" width="9.26" height="11.13" fill="#fff"/>
<rect x="939.00" y="252.17" width="9.58" height="10.93" fill="#fff"/>
<rect x="956.00" y="252.17" width="9.06" height="10.93" fill="#fff"/>
<rect x="446.30" y="951.67" width="9.47" height="10.83" fill="#fff"/>
<rect x="463.10" y="951.67" width="8.96" height="10.83" fill="#fff"/>
<g font-family="'Liberation Sans', 'DejaVu Sans', sans-serif" font-weight="700" fill="#000" id="txt2" filter="url(#faty)" style="font-kerning:none">
<text id="yt" font-size="64.5" transform="translate(68.4 1000.0) rotate(-90)" aria-label="RIPPLE REJECTION (dB)"><tspan id="g90" x="92.91" y="0.00" textLength="30.15" lengthAdjust="spacingAndGlyphs">R</tspan><tspan id="g91" x="134.79" y="0.00" textLength="12.92" lengthAdjust="spacingAndGlyphs">I</tspan><tspan id="g92" x="151.01" y="0.00" textLength="29.82" lengthAdjust="spacingAndGlyphs">P</tspan><tspan id="g93" x="185.81" y="0.00" textLength="29.82" lengthAdjust="spacingAndGlyphs">P</tspan><tspan id="g94" x="220.47" y="0.00" textLength="28.57" lengthAdjust="spacingAndGlyphs">L</tspan><tspan id="g95" x="253.07" y="0.00" textLength="27.22" lengthAdjust="spacingAndGlyphs">E</tspan> <tspan id="g96" x="312.72" y="0.00" textLength="28.90" lengthAdjust="spacingAndGlyphs">R</tspan><tspan id="g97" x="346.28" y="0.00" textLength="27.11" lengthAdjust="spacingAndGlyphs">E</tspan><tspan id="g98" x="379.23" y="0.00" textLength="28.36" lengthAdjust="spacingAndGlyphs">J</tspan><tspan id="g99" x="406.84" y="0.00" textLength="30.55" lengthAdjust="spacingAndGlyphs">E</tspan><tspan id="g100" x="445.51" y="0.00" textLength="31.59" lengthAdjust="spacingAndGlyphs">C</tspan><tspan id="g101" x="482.80" y="0.00" textLength="32.47" lengthAdjust="spacingAndGlyphs">T</tspan><tspan id="g102" x="522.68" y="0.00" textLength="9.64" lengthAdjust="spacingAndGlyphs">I</tspan><tspan id="g103" x="540.02" y="0.00" textLength="31.90" lengthAdjust="spacingAndGlyphs">O</tspan><tspan id="g104" x="578.76" y="0.00" textLength="35.01" lengthAdjust="spacingAndGlyphs">N</tspan> <tspan id="g105" x="637.29" y="-4.40" textLength="10.74" lengthAdjust="spacingAndGlyphs" font-size="57.5">(</tspan><tspan id="g106" x="653.29" y="0.00" textLength="32.97" lengthAdjust="spacingAndGlyphs">d</tspan><tspan id="g107" x="687.22" y="0.00" textLength="32.21" lengthAdjust="spacingAndGlyphs">B</tspan><tspan id="g108" x="726.26" y="-4.40" textLength="14.04" lengthAdjust="spacingAndGlyphs" font-size="57.5">)</tspan></text>
</g>
</g>
</svg>
</body></html>
